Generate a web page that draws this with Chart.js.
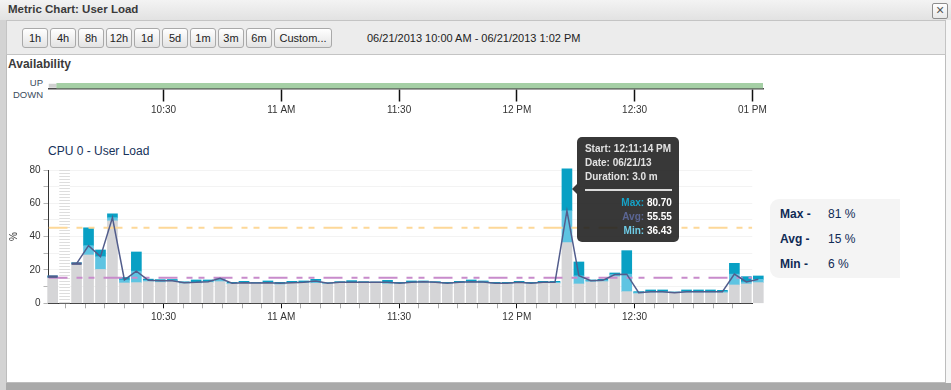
<!DOCTYPE html>
<html>
<head>
<meta charset="utf-8">
<title>Metric Chart: User Load</title>
<script src="https://cdn.jsdelivr.net/npm/chart.js@4.4.1/dist/chart.umd.min.js"></script>
<style>
  html, body { margin: 0; padding: 0; }
  body { width: 951px; height: 390px; position: relative; overflow: hidden;
         background: #a9a9a9; font-family: "Liberation Sans", Arial, sans-serif; color: #333; }
  .abs { position: absolute; }
  #leftEdge { left: 0; top: 0; width: 6px; height: 390px; background: #d3d3d3; }
  #titleBar { left: 0; top: 0; width: 951px; height: 20px; background: linear-gradient(#f3f3f3, #e2e2e2); }
  #titleText { left: 8px; top: 3px; font-weight: bold; font-size: 11.5px; color: #3a3a3a; }
  #closeBtn { left: 932px; top: 3px; width: 14px; height: 14px; border: 1px solid #8d8d8d; border-radius: 2px;
              background: linear-gradient(#ffffff, #e8e8e8); font-size: 14px; line-height: 13px; text-align: center; color: #555; }
  #dialog { left: 6px; top: 20px; width: 938px; height: 361px; background: #fff; border: 1px solid #bdbdbd; }
  #rightEdge { left: 946px; top: 20px; width: 5px; height: 363px; background: #f6f6f6; }
  #toolbar { left: 6px; top: 20px; width: 940px; height: 35px; background: #ececec; border: 1px solid #c4c4c4; box-sizing: border-box; }
  .btn { position: absolute; top: 28px; width: 26px; height: 20px; box-sizing: border-box; border: 1px solid #a9a9a9; border-radius: 3px;
         background: linear-gradient(#ffffff, #e3e3e3); font-size: 11px; line-height: 18px; text-align: center; color: #222; }
  #rangeText { left: 367px; top: 32px; font-size: 11px; color: #222; }
  #availTitle { left: 8px; top: 57px; font-weight: bold; font-size: 12px; color: #3a3a3a; }
  .state { position: absolute; right: 908px; font-size: 9.5px; color: #3b4b5d; }
  #cpuTitle { left: 48px; top: 144px; font-size: 12px; color: #17325a; }
  #availBox { left: 0; top: 75px; width: 780px; height: 45px; }
  #cpuBox { left: 0; top: 140px; width: 780px; height: 190px; }
  #stats { left: 770px; top: 199px; width: 130px; height: 79px; background: #f4f4f4; border-radius: 9px 0 0 9px; }
  .statName { position: absolute; left: 10px; font-weight: bold; font-size: 12px; color: #0f2a55; }
  .statVal { position: absolute; left: 58px; font-size: 12px; color: #0f2a55; }
  #tip { width: 102px; height: 105px; background: rgba(28, 28, 28, 0.88); border-radius: 5px; color: #e2e2e2;
         font-size: 10px; font-weight: bold; }
  #tip .arrow { position: absolute; left: -5px; top: 47px; width: 0; height: 0;
                border-top: 5px solid transparent; border-bottom: 5px solid transparent; border-right: 5px solid rgba(28, 28, 28, 0.88); }
  #tip .line { position: absolute; left: 8px; }
  #tip .sep { position: absolute; left: 8px; top: 52px; width: 87px; height: 2px; background: #dcdcdc; }
  #tip .val { position: absolute; right: 7px; text-align: right; color: #fff; }
</style>
</head>
<body>
<div class="abs" id="leftEdge"></div>
<div class="abs" id="titleBar"></div>
<div class="abs" id="titleText">Metric Chart: User Load</div>
<div class="abs" id="closeBtn">×</div>
<div class="abs" id="dialog"></div>
<div class="abs" id="rightEdge"></div>
<div class="abs" id="toolbar"></div>
<div id="buttons"></div>
<div class="abs" id="rangeText"></div>
<div class="abs" id="availTitle">Availability</div>
<div class="state" style="top:77px">UP</div>
<div class="state" style="top:89px">DOWN</div>
<div class="abs" id="availBox"><canvas id="availChart"></canvas></div>
<div class="abs" id="cpuTitle">CPU 0 - User Load</div>
<div class="abs" id="cpuBox"><canvas id="cpuChart"></canvas></div>
<div class="abs" id="stats"></div>
<div class="abs" id="tip"></div>

<script>
// ---- data ----
var rangeButtons = ['1h', '4h', '8h', '12h', '1d', '5d', '1m', '3m', '6m', 'Custom...'];
var rangeText = '06/21/2013 10:00 AM - 06/21/2013 1:02 PM';

// time axis, minutes after 10:00 AM
var axisStart = 0.7;
var cpuAxisEnd = 180;
var availAxisEnd = 182.7;
var timeTickMinutes = [30, 60, 90, 120, 150, 180];
var timeTickLabels = ['10:30', '11 AM', '11:30', '12 PM', '12:30', '01 PM'];

// availability spans [from, to] in minutes
var availUnknown = [0.7, 2.8];
var availUp = [2.8, 182.7];

// user load buckets (%), about 3 minutes each
var bucketStart = 0.233;   // 10:00:14
var bucketMinutes = 3.047;
var loadMin = [15.3, null, 23.4, 29.0, 20.3, 49.5, 12.2, 12.4, 13.0, 12.5,
               13.0, 11.8, 12.0, 12.5, 13.0, 11.6, 12.0, 11.8, 12.0, 11.2,
               12.0, 12.0, 12.0, 11.6, 12.0, 12.0, 12.0, 12.0, 11.6, 11.6,
               12.0, 12.2, 12.0, 11.6, 12.0, 12.2, 12.0, 11.6, 11.6, 12.0,
               11.6, 12.0, 12.0, 36.43, 11.6, 12.8, 13.0, 16.0, 7.0, 5.8,
               6.3, 6.3, 6.0, 6.3, 6.3, 6.3, 6.3, 11.0, 11.6, 12.4];
var loadAvg = [16.0, null, 23.8, 34.6, 28.0, 51.4, 14.0, 19.3, 13.8, 13.6,
               13.6, 12.4, 12.6, 13.0, 15.0, 12.0, 12.4, 12.2, 12.4, 12.0,
               12.4, 12.6, 13.4, 12.0, 12.6, 12.6, 12.6, 12.6, 12.6, 12.0,
               12.6, 13.0, 12.6, 12.0, 12.6, 13.0, 12.8, 12.0, 12.0, 12.6,
               12.0, 12.6, 12.6, 55.55, 16.5, 13.6, 13.8, 17.3, 17.5, 6.4,
               7.0, 7.0, 6.4, 7.0, 7.0, 7.0, 7.0, 17.5, 12.8, 14.4];
var loadMax = [16.4, null, 24.3, 45.3, 32.0, 53.7, 15.5, 30.8, 14.5, 14.2,
               14.3, 12.9, 14.0, 14.0, 15.6, 12.6, 13.2, 12.6, 13.4, 12.6,
               13.2, 13.4, 14.4, 12.4, 13.0, 13.6, 13.0, 12.8, 13.8, 12.6,
               13.4, 13.4, 13.0, 12.6, 13.2, 14.0, 13.4, 12.6, 12.6, 13.2,
               12.6, 13.2, 13.2, 80.70, 24.8, 14.0, 14.4, 18.2, 31.6, 7.0,
               8.0, 8.0, 6.8, 8.0, 8.0, 8.0, 7.8, 24.0, 16.0, 16.4];
var missingBuckets = [1];

// reference lines
var refAvg = 15.4;
var refMax = 45.4;

// hovered bucket
var hoverBucket = 43;
var hoverStart = '12:11:14 PM';
var hoverDate = '06/21/13';
var hoverDuration = '3.0 m';

var statNames = ['Max', 'Avg', 'Min'];
var statValues = [81, 15, 6];

// ---- colours ----
var cGrey = '#d5d5d7';
var cLight = '#5ec4e2';
var cDark = '#08a0c4';
var cLine = '#525d8c';
var cPurple = '#c88bcb';
var cOrange = '#fdd898';
var dashPattern = [19, 9, 6, 6, 6, 9];

Chart.defaults.font.family = '"Liberation Sans", Arial, sans-serif';
Chart.defaults.font.size = 10;
Chart.defaults.color = '#333';

/*******************************
* Window chrome: buttons, range, stats
*******************************/
var btnBox = document.getElementById('buttons');
var bx = 22;
rangeButtons.forEach(function (b) {
  var d = document.createElement('div');
  d.className = 'btn';
  d.textContent = b;
  d.style.left = bx + 'px';
  if (b.length > 3) d.style.width = '58px';
  btnBox.appendChild(d);
  bx += (b.length > 3 ? 58 : 26) + 2;
});
document.getElementById('rangeText').textContent = rangeText;

var stats = document.getElementById('stats');
statNames.forEach(function (n, i) {
  var top = 8 + i * 25;
  stats.insertAdjacentHTML('beforeend',
    '<div class="statName" style="top:' + top + 'px">' + n + ' -</div>' +
    '<div class="statVal" style="top:' + top + 'px">' + statValues[i] + ' %</div>');
});

function bucketX(i) { return bucketStart + (i + 0.5) * bucketMinutes; }
function timeLabel(v) {
  var k = timeTickMinutes.indexOf(v);
  return k < 0 ? '' : timeTickLabels[k];
}

/*******************************
* Availability strip
*******************************/
new Chart('availChart', {
  type: 'bar',
  data: {
    labels: ['UP'],
    datasets: [
      { data: [{ y: 'UP', x: availUp }], backgroundColor: '#a5cfa5', barPercentage: 1, categoryPercentage: 1, grouped: false },
      { data: [{ y: 'UP', x: availUnknown }], backgroundColor: '#d0d0d0', barPercentage: 0.7, categoryPercentage: 1, grouped: false }
    ]
  },
  options: {
    indexAxis: 'y',
    responsive: true,
    maintainAspectRatio: false,
    animation: false,
    layout: { padding: { left: 48.5, right: 17, top: 8, bottom: 0 } },
    plugins: { legend: { display: false }, tooltip: { enabled: false } },
    scales: {
      y: { display: false },
      x: {
        type: 'linear', min: axisStart, max: availAxisEnd, offset: false,
        afterBuildTicks: function (s) { s.ticks = timeTickMinutes.map(function (v) { return { value: v }; }); },
        afterFit: function (s) { s.height = 31.5; },
        grid: { drawOnChartArea: false, offset: false, tickLength: 13, tickColor: '#111', tickWidth: 1.5 },
        border: { color: '#4a4a4a', width: 1.5 },
        ticks: { autoSkip: false, maxRotation: 0, padding: 3, color: '#333', callback: timeLabel }
      }
    }
  }
});

/*******************************
* CPU user load chart
*******************************/
var hatch = (function () {
  var c = document.createElement('canvas');
  c.width = 4; c.height = 3;
  var g = c.getContext('2d');
  g.fillStyle = '#ffffff'; g.fillRect(0, 0, 4, 3);
  g.fillStyle = '#dddddd'; g.fillRect(0, 0, 4, 1);
  return g.createPattern(c, 'repeat');
})();

function floatPoints(lo, hi) {
  var pts = [];
  for (var i = 0; i < loadAvg.length; i++) {
    if (loadAvg[i] == null) continue;
    pts.push({ x: bucketX(i), y: [lo(i), hi(i)], bucket: i });
  }
  return pts;
}

var barBase = { type: 'bar', grouped: false, barThickness: 10, borderWidth: 0, clip: false, order: 3 };
var minorTicks = [];
for (var m = 5; m <= 175; m += 5) minorTicks.push({ value: m });

var cpuChart = new Chart('cpuChart', {
  data: {
    datasets: [
      Object.assign({}, barBase, { label: 'no data', order: 4, backgroundColor: hatch,
        data: missingBuckets.map(function (i) { return { x: bucketX(i), y: [0, 80] }; }) }),
      Object.assign({}, barBase, { label: 'Min', backgroundColor: cGrey,
        data: floatPoints(function () { return 0; }, function (i) { return loadMin[i]; }) }),
      Object.assign({}, barBase, { label: 'Avg', backgroundColor: cLight,
        data: floatPoints(function (i) { return loadMin[i]; }, function (i) { return loadAvg[i]; }) }),
      Object.assign({}, barBase, { label: 'Max', backgroundColor: cDark,
        data: floatPoints(function (i) { return loadAvg[i]; }, function (i) { return loadMax[i]; }) }),
      { type: 'line', label: 'Avg line', order: 0, clip: false,
        data: loadAvg.map(function (v, i) { return { x: bucketX(i), y: v }; }),
        borderColor: cLine, borderWidth: 1.5, tension: 0, spanGaps: false,
        pointStyle: 'line', pointBorderColor: cLine, pointBorderWidth: 2.5,
        pointRadius: function (ctx) {
          var i = ctx.dataIndex;
          return (i === 0 || loadAvg[i - 1] == null) ? 5 : 0;
        } },
      { type: 'line', label: 'avg ref', order: 1, pointRadius: 0, borderWidth: 2,
        borderColor: cPurple, borderDash: dashPattern,
        data: [{ x: axisStart, y: refAvg }, { x: cpuAxisEnd, y: refAvg }] },
      { type: 'line', label: 'max ref', order: 1, pointRadius: 0, borderWidth: 2,
        borderColor: cOrange, borderDash: dashPattern,
        data: [{ x: axisStart, y: refMax }, { x: cpuAxisEnd, y: refMax }] }
    ]
  },
  options: {
    responsive: true,
    maintainAspectRatio: false,
    animation: false,
    layout: { padding: { left: 0, right: 27.7, top: 30, bottom: 0 } },
    plugins: { legend: { display: false }, tooltip: { enabled: false } },
    scales: {
      x: {
        type: 'linear', min: axisStart, max: cpuAxisEnd, offset: false,
        afterBuildTicks: function (s) { s.ticks = minorTicks.slice(); },
        afterFit: function (s) { s.height = 26.7; },
        grid: { drawOnChartArea: false, offset: false, tickLength: 5,
                tickColor: function (ctx) { return timeLabel(ctx.tick && ctx.tick.value) ? '#111' : '#aaa'; } },
        border: { color: '#333', width: 1 },
        ticks: { autoSkip: false, maxRotation: 0, padding: 3, color: '#333', callback: timeLabel }
      },
      y: {
        min: 0, max: 80,
        afterFit: function (s) { s.width = 48.5; },
        title: { display: true, text: '%', color: '#333', font: { size: 10 }, padding: { top: 8, bottom: 0 } },
        grid: { color: '#f3f3f3', tickLength: 5, tickColor: '#b5b5b5' },
        border: { color: '#333', width: 1 },
        ticks: { stepSize: 10, padding: 3, color: '#333',
                 callback: function (v) { return v % 20 === 0 ? v : ''; } }
      }
    }
  }
});

/*******************************
* Hover tooltip for one bucket
*******************************/
var maxSet = cpuChart.data.datasets[3];
var k = maxSet.data.findIndex(function (p) { return p.bucket === hoverBucket; });
var el = cpuChart.getDatasetMeta(3).data[k];
var box = document.getElementById('cpuBox');
var tip = document.getElementById('tip');
tip.style.left = (box.offsetLeft + el.x + 10) + 'px';
tip.style.top = (box.offsetTop + el.y - 32) + 'px';
tip.innerHTML =
  '<div class="arrow"></div>' +
  '<div class="line" style="top:6px">Start: ' + hoverStart + '</div>' +
  '<div class="line" style="top:20px">Date: ' + hoverDate + '</div>' +
  '<div class="line" style="top:34px">Duration: ' + hoverDuration + '</div>' +
  '<div class="sep"></div>' +
  '<div class="val" style="top:60px"><span style="color:#16a3c8">Max:</span> ' + loadMax[hoverBucket].toFixed(2) + '</div>' +
  '<div class="val" style="top:74px"><span style="color:#5b6694">Avg:</span> ' + loadAvg[hoverBucket].toFixed(2) + '</div>' +
  '<div class="val" style="top:88px"><span style="color:#6fcde8">Min:</span> ' + loadMin[hoverBucket].toFixed(2) + '</div>';
</script>
</body>
</html>
